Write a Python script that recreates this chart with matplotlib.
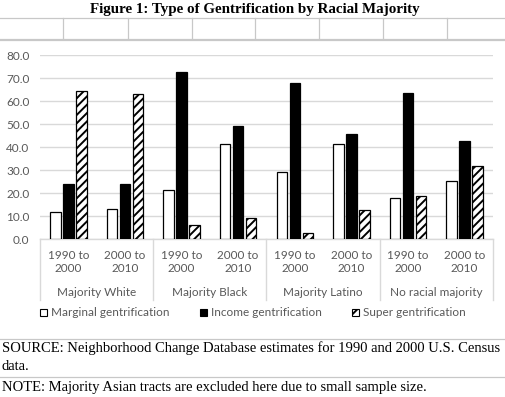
import matplotlib
matplotlib.use("Agg")
import matplotlib.pyplot as plt
import numpy as np
from matplotlib.lines import Line2D
from matplotlib.patches import Patch

groups = ["Majority White", "Majority Black", "Majority Latino", "No racial majority"]
periods = ["1990 to\n2000", "2000 to\n2010"]

marginal = [11.8, 13.2, 21.3, 41.3, 29.3, 41.4, 18.0, 25.3]
income = [24.2, 24.1, 72.7, 49.3, 68.0, 45.8, 63.7, 42.8]
super_gent = [64.4, 63.0, 6.2, 9.1, 2.8, 12.7, 18.8, 31.9]

series_names = ["Marginal gentrification", "Income gentrification", "Super gentrification"]

W, H = 506, 397
GRAY_TXT = "#595959"
GRID = "#d9d9d9"
SANS = "Lato"
SERIF = "Liberation Serif"

plt.rcParams["hatch.linewidth"] = 1.4
plt.rcParams["hatch.color"] = "black"

fig = plt.figure(figsize=(W / 100, H / 100), dpi=100)


def fx(px):
    return px / W


def fy(py):
    return 1 - py / H


ax_left, ax_right, ax_top, ax_bottom = 40, 493, 55, 239.3
ax = fig.add_axes([fx(ax_left), fy(ax_bottom), fx(ax_right - ax_left), (ax_bottom - ax_top) / H])

x = np.arange(len(marginal))
bw = 0.185
step = 0.23
ax.bar(x - step, marginal, bw, color="white", edgecolor="black", linewidth=0.9, zorder=3)
ax.bar(x, income, bw, color="black", edgecolor="black", linewidth=0.9, zorder=3)
ax.bar(x + step, super_gent, bw, color="white", edgecolor="black", linewidth=0.9,
       hatch="////", zorder=3)

ax.set_xlim(-0.5, len(x) - 0.5)
ax.set_ylim(0, 80)
ax.set_yticks(np.arange(0, 81, 10))
ax.set_yticklabels([f"{v:.1f}" for v in np.arange(0, 81, 10)], fontsize=8.5,
                   color=GRAY_TXT, family=SANS)
ax.tick_params(axis="y", length=0, pad=7.5)
ax.yaxis.grid(True, color=GRID, linewidth=1.0, zorder=0)
ax.set_xticks([])
for s in ["top", "right", "left"]:
    ax.spines[s].set_visible(False)
ax.spines["bottom"].set_color(GRID)
ax.spines["bottom"].set_linewidth(1.0)

# category axis: period labels, group labels and separators
axh = ax_bottom - ax_top
trans = ax.get_xaxis_transform()
for i in x:
    ax.text(i, -(262 - ax_bottom) / axh, periods[i % 2], transform=trans, ha="center",
            va="center", fontsize=8.5, color=GRAY_TXT, family=SANS, linespacing=1.3)
for g, name in enumerate(groups):
    ax.text(2 * g + 0.5, -(293 - ax_bottom) / axh, name, transform=trans, ha="center",
            va="center", fontsize=8.5, color=GRAY_TXT, family=SANS)
for b in np.arange(-0.5, len(x), 2):
    ax.plot([b, b], [0, -(300 - ax_bottom) / axh], transform=trans, color=GRID,
            linewidth=1.0, clip_on=False)

handles = [
    Patch(facecolor="white", edgecolor="black", linewidth=0.8),
    Patch(facecolor="black", edgecolor="black", linewidth=0.8),
    Patch(facecolor="white", edgecolor="black", linewidth=0.8, hatch="///"),
]
leg = fig.legend(handles, series_names, loc="center", bbox_to_anchor=(fx(253), fy(313)),
                 ncol=3, frameon=False, handlelength=0.6, handleheight=0.6,
                 handletextpad=0.3, columnspacing=2.6,
                 prop={"family": SANS, "size": 8.5})
for t in leg.get_texts():
    t.set_color(GRAY_TXT)

fig.text(fx(255), fy(10), "Figure 1: Type of Gentrification by Racial Majority",
         ha="center", va="center", family=SERIF, weight="bold", fontsize=10.8)

# document table lines around the chart
LINE = "#c8c8c8"
for py in [18.3, 38.5, 40.2, 339, 377]:
    fig.add_artist(Line2D([0, 1], [fy(py), fy(py)], transform=fig.transFigure,
                          color=LINE, linewidth=0.9))
for px in [63.3, 127.7, 191.7, 255, 319, 383.3, 447.3]:
    fig.add_artist(Line2D([fx(px), fx(px)], [fy(18.3), fy(38.5)], transform=fig.transFigure,
                          color=LINE, linewidth=0.9))

fig.text(fx(2), fy(348), "SOURCE: Neighborhood Change Database estimates for 1990 and 2000 U.S. Census",
         ha="left", va="center", family=SERIF, fontsize=10.5)
fig.text(fx(2), fy(366), "data.", ha="left", va="center", family=SERIF, fontsize=10.5)
fig.text(fx(2), fy(388), "NOTE: Majority Asian tracts are excluded here due to small sample size.",
         ha="left", va="center", family=SERIF, fontsize=10.5)

fig.savefig("out.png", dpi=100)
